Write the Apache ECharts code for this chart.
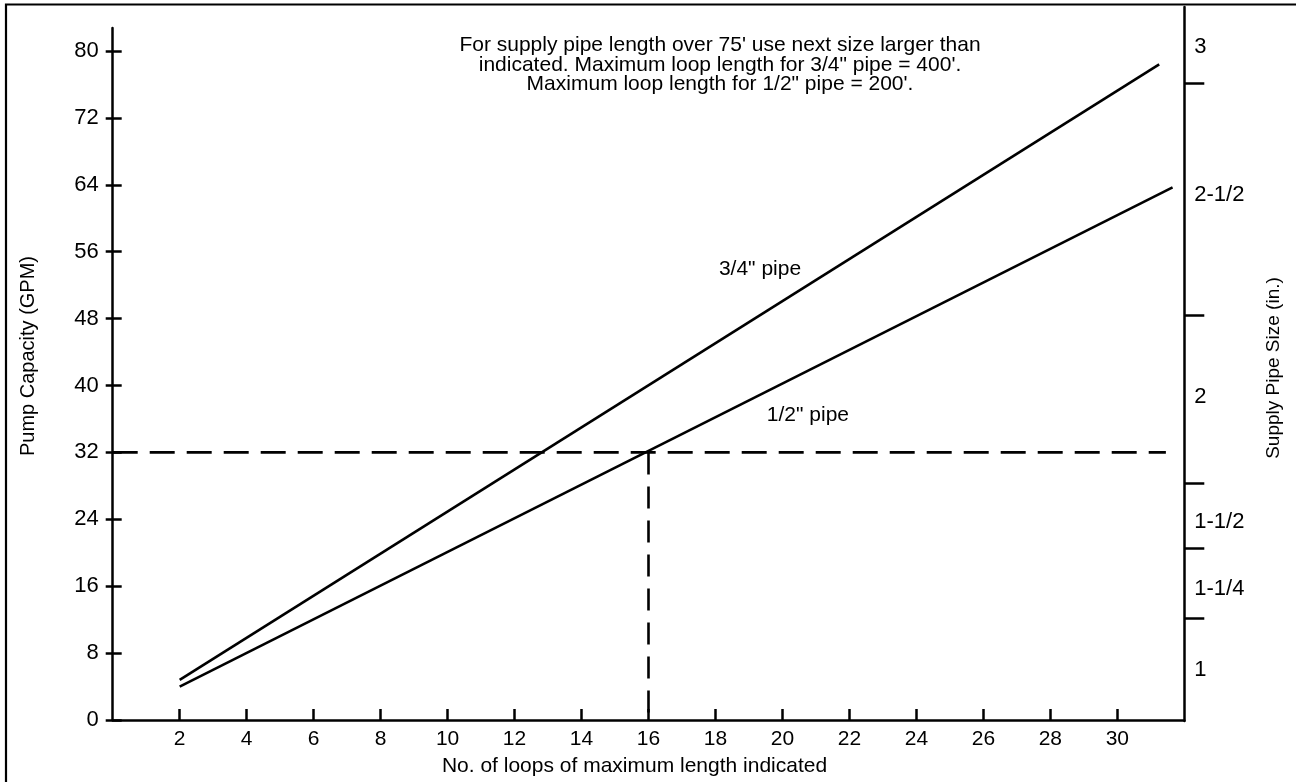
<!DOCTYPE html>
<html>
<head>
<meta charset="utf-8">
<script src="https://cdn.jsdelivr.net/npm/echarts@6/dist/echarts.min.js"></script>
<style>
html,body{margin:0;padding:0;background:#fff;}
#chart{width:1296px;height:782px;}
</style>
</head>
<body>
<div id="chart"></div>
<script>
// ---- data ----
const pipe34Loops = [2, 31.25];
const pipe34Gpm = [4.8, 78.4];
const pipe12Loops = [2, 31.65];
const pipe12Gpm = [4.0, 63.7];
const refGpm = 32;
const refLoops = 16;
const refLineEndLoops = 31.45;
const xTicks = [2, 4, 6, 8, 10, 12, 14, 16, 18, 20, 22, 24, 26, 28, 30];
const yTicks = [0, 8, 16, 24, 32, 40, 48, 56, 64, 72, 80];
const pipeSizeLabels = ['1', '1-1/4', '1-1/2', '2', '2-1/2', '3'];
const pipeSizeLabelAt = [6.1, 15.8, 23.8, 38.7, 62.8, 80.5];   // GPM-scale positions
const pipeSizeBreaks = [12.3, 20.6, 28.4, 48.4, 76.1];        // GPM-scale tick positions
const seriesNames = ['3/4" pipe', '1/2" pipe'];
const seriesLabelAt = [[19.33, 53.85], [20.76, 36.5]];
const noteLines = [
  "For supply pipe length over 75' use next size larger than",
  "indicated. Maximum loop length for 3/4\" pipe = 400'.",
  "Maximum loop length for 1/2\" pipe = 200'."
];

const FONT = '"Liberation Sans", Arial, Helvetica, sans-serif';
const zip = (a, b) => a.map((v, i) => [v, b[i]]);

const chart = echarts.init(document.getElementById('chart'), null, {renderer: 'canvas'});
const option = {
  backgroundColor: '#fff',
  animation: false,
  textStyle: {fontFamily: FONT, color: '#000'},
  grid: [
    {left: 112.7, right: 111.7, top: 28, bottom: 61, containLabel: false},
    {left: 112.7, right: 111.7, top: 7, bottom: 61, containLabel: false}
  ],
  xAxis: [
    {
      type: 'value', gridIndex: 0, min: 0, max: 32, interval: 2,
      name: 'No. of loops of maximum length indicated',
      nameLocation: 'middle', nameGap: 36,
      nameTextStyle: {fontSize: 21, color: '#000', fontFamily: FONT, padding: [0, 28, 0, 0]},
      axisLine: {onZero: false, lineStyle: {color: '#000', width: 2.5}},
      axisTick: {inside: true, length: 11, lineStyle: {color: '#000', width: 2.5}, customValues: xTicks},
      axisLabel: {fontSize: 21, color: '#000', margin: 9, fontFamily: FONT, customValues: xTicks},
      splitLine: {show: false}
    },
    {type: 'value', gridIndex: 1, min: 0, max: 32, show: false}
  ],
  yAxis: [
    {
      type: 'value', gridIndex: 0, min: 0, max: 82.75,
      name: 'Pump Capacity (GPM)', nameLocation: 'middle', nameGap: 74,
      nameTextStyle: {fontSize: 20, color: '#000', fontFamily: FONT, padding: [0, 0, 0, 36]},
      axisLine: {show: true, onZero: false, lineStyle: {color: '#000', width: 2.5}},
      axisTick: {show: true, inside: false, length: 7, lineStyle: {color: '#000', width: 2.5}, customValues: yTicks},
      axisLabel: {fontSize: 22, color: '#000', margin: 14, fontFamily: FONT, customValues: yTicks},
      splitLine: {show: false}
    },
    {
      type: 'value', gridIndex: 0, min: 0, max: 82.75, position: 'left',
      axisLine: {show: false, onZero: false},
      axisTick: {show: true, inside: true, length: 9, lineStyle: {color: '#000', width: 2.5}, customValues: yTicks},
      axisLabel: {show: false},
      splitLine: {show: false}
    },
    {
      type: 'value', gridIndex: 1, min: 0, max: 85.25, position: 'right',
      name: 'Supply Pipe Size (in.)', nameLocation: 'middle', nameGap: 80, nameRotate: 90,
      nameTextStyle: {fontSize: 19, color: '#000', fontFamily: FONT, padding: [0, 8, 0, 0]},
      axisLine: {show: true, onZero: false, lineStyle: {color: '#000', width: 2.5}},
      axisTick: {show: true, inside: false, length: 20, lineStyle: {color: '#000', width: 2.5}, customValues: pipeSizeBreaks},
      axisLabel: {
        fontSize: 22, color: '#000', margin: 10, fontFamily: FONT,
        customValues: pipeSizeLabelAt,
        formatter: v => {
          const i = pipeSizeLabelAt.findIndex(p => Math.abs(p - v) < 1e-6);
          return i >= 0 ? pipeSizeLabels[i] : '';
        }
      },
      splitLine: {show: false}
    }
  ],
  graphic: [
    {
      type: 'rect', z: -1, silent: true,
      shape: {x: 6, y: 4.5, width: 1400, height: 900},
      style: {fill: 'none', stroke: '#000', lineWidth: 2.2}
    },
    {
      type: 'text', x: 720, y: 35.5, silent: true,
      style: {
        text: noteLines.join('\n'), textAlign: 'center', textVerticalAlign: 'top',
        font: '21px ' + FONT, fill: '#000', lineHeight: 19.5
      }
    }
  ],
  series: [
    {
      type: 'line', name: seriesNames[0], xAxisIndex: 0, yAxisIndex: 0,
      data: zip(pipe34Loops, pipe34Gpm), symbol: 'none',
      lineStyle: {color: '#000', width: 2.6}
    },
    {
      type: 'line', name: seriesNames[1], xAxisIndex: 0, yAxisIndex: 0,
      data: zip(pipe12Loops, pipe12Gpm), symbol: 'none',
      lineStyle: {color: '#000', width: 2.6}
    },
    {
      type: 'line', name: 'ref-h', xAxisIndex: 0, yAxisIndex: 0,
      data: [[0, refGpm], [refLineEndLoops, refGpm]], symbol: 'none',
      lineStyle: {color: '#000', width: 2.6, type: [25, 12]}
    },
    {
      type: 'line', name: 'ref-v', xAxisIndex: 0, yAxisIndex: 0,
      data: [[refLoops, refGpm], [refLoops, 0]], symbol: 'none',
      lineStyle: {color: '#000', width: 2.6, type: [22, 12]}
    },
    {
      type: 'scatter', name: 'labels', xAxisIndex: 0, yAxisIndex: 0,
      data: seriesLabelAt.map((p, i) => ({value: p, name: seriesNames[i]})),
      symbolSize: 0, silent: true,
      itemStyle: {opacity: 1},
      label: {show: true, position: 'inside', formatter: p => p.name, fontSize: 21, color: '#000', opacity: 1, fontFamily: FONT, textBorderWidth: 0}
    }
  ]
};
chart.setOption(option);
</script>
</body>
</html>
